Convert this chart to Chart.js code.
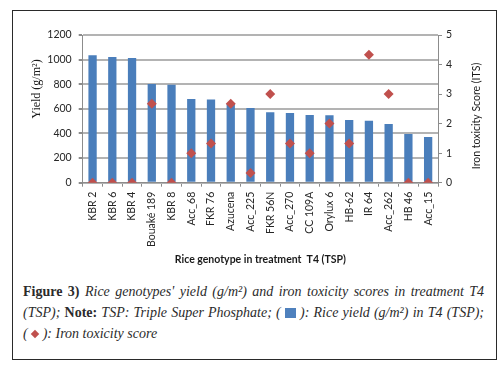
<!DOCTYPE html>
<html>
<head>
<meta charset="utf-8">
<script src="https://cdn.jsdelivr.net/npm/chart.js@4.4.0/dist/chart.umd.min.js"></script>
<style>
  html, body { margin: 0; padding: 0; background: #fff; }
  #frame { position: absolute; left: 12px; top: 10px; width: 483px; height: 348px; border: 1px solid #2a2a2a; }
  #box { position: relative; width: 483px; height: 262px; }
  #cap { position: absolute; left: 10px; top: 270px; width: 461px; font-family: "Liberation Serif", serif; font-size: 14px; color: #2b2b2b; line-height: 21px; }
  #cap .ln { white-space: nowrap; text-align: justify; text-align-last: justify; }
  #cap .last { text-align-last: left; }
  .sq { display: inline-block; width: 11px; height: 10px; background: #4f81bd; vertical-align: -1px; }
  .dm { display: inline-block; width: 6px; height: 6px; background: #c0504d; transform: rotate(45deg); vertical-align: 1px; margin: 0 1px; }
</style>
</head>
<body>
<div id="frame">
  <div id="box"><canvas id="chart"></canvas></div>
  <div id="cap">
    <div class="ln"><b>Figure 3)</b> <i>Rice genotypes' yield (g/m²) and iron toxicity scores in treatment T4</i></div>
    <div class="ln"><i>(TSP);</i> <b>Note:</b> <i>TSP: Triple Super Phosphate; (</i> <span class="sq"></span> <i>): Rice yield (g/m²) in T4 (TSP);</i></div>
    <div class="ln last"><i>(</i> <span class="dm"></span> <i>): Iron toxicity score</i></div>
  </div>
</div>
<script>
const genotypes = ['KBR 2', 'KBR 6', 'KBR 4', 'Bouaké 189', 'KBR 8', 'Acc_68', 'FKR 76', 'Azucena', 'Acc_225',
  'FKR 56N', 'Acc_270', 'CC 109A', 'Orylux 6', 'HB-62', 'IR 64', 'Acc_262', 'HB 46', 'Acc_15'];
const yieldValues = [1035, 1021, 1013, 802, 796, 680, 676, 639, 607, 572, 566, 550, 547, 509, 504, 477, 396, 371];
const toxicityScores = [0, 0, 0, 2.67, 0, 1, 1.33, 2.67, 0.33, 3, 1.33, 1, 2, 1.33, 4.33, 3, 0, 0];

const tickFont = { family: 'Lato', size: 10.5 };
const axisGray = '#8c8c8c';

// titres d'axes dessinés à la main (le titre de droite se lit de bas en haut)
const axisTitles = {
  id: 'axisTitles',
  afterDraw(chart) {
    const { ctx, chartArea: a } = chart;
    ctx.save();
    ctx.fillStyle = '#1a1a1a';
    ctx.textAlign = 'center';
    ctx.textBaseline = 'middle';

    ctx.save();
    ctx.translate(a.left - 46, a.top + 54);
    ctx.rotate(-Math.PI / 2);
    ctx.font = '12px "Liberation Serif"';
    ctx.fillText('Yield (g/m²)', 0, 0);
    ctx.restore();

    ctx.save();
    ctx.translate(a.right + 39, a.top + 81);
    ctx.rotate(-Math.PI / 2);
    ctx.font = '10.5px Lato';
    ctx.fillText('Iron toxicity Score (ITS)', 0, 0);
    ctx.restore();

    ctx.font = 'bold 10.5px Lato';
    ctx.fillText('Rice genotype in treatment  T4 (TSP)', (a.left + a.right) / 2, a.bottom + 77);
    ctx.restore();
  }
};

new Chart(document.getElementById('chart'), {
  type: 'bar',
  data: {
    labels: genotypes,
    datasets: [{
      type: 'line',
      label: 'Iron toxicity score',
      data: toxicityScores,
      yAxisID: 'y2',
      showLine: false,
      pointStyle: 'rectRot',
      pointRadius: 5,
      backgroundColor: '#c0504d',
      borderColor: '#c0504d',
      borderWidth: 0,
      order: 0
    }, {
      label: 'Rice yield',
      data: yieldValues,
      yAxisID: 'y',
      backgroundColor: '#4a7ebb',
      barPercentage: 0.42,
      categoryPercentage: 1,
      order: 1
    }]
  },
  options: {
    responsive: true,
    maintainAspectRatio: false,
    animation: false,
    layout: { padding: { top: 24, left: 0, right: 0, bottom: 0 } },
    plugins: { legend: { display: false }, tooltip: { enabled: false } },
    scales: {
      x: {
        afterFit: s => { s.height = 90.3; },
        grid: { drawOnChartArea: false, offset: true, tickLength: 4, tickColor: axisGray },
        border: { color: axisGray },
        ticks: { font: tickFont, color: '#262626', minRotation: 90, maxRotation: 90, padding: 5, autoSkip: false }
      },
      y: {
        position: 'left',
        min: 0, max: 1200,
        afterFit: s => { s.width = 69.7; },
        grid: { color: '#b3b3b3', lineWidth: 2, tickLength: 4, tickColor: axisGray },
        border: { color: axisGray },
        ticks: { stepSize: 200, font: tickFont, color: '#262626', padding: 7, callback: v => String(v) }
      },
      y2: {
        position: 'right',
        min: 0, max: 5,
        afterFit: s => { s.width = 58; },
        grid: { drawOnChartArea: false, tickLength: 4, tickColor: axisGray },
        border: { color: axisGray },
        ticks: { stepSize: 0.5, font: tickFont, color: '#262626', padding: 4, callback: v => String(v) }
      }
    }
  },
  plugins: [axisTitles]
});
</script>
</body>
</html>
